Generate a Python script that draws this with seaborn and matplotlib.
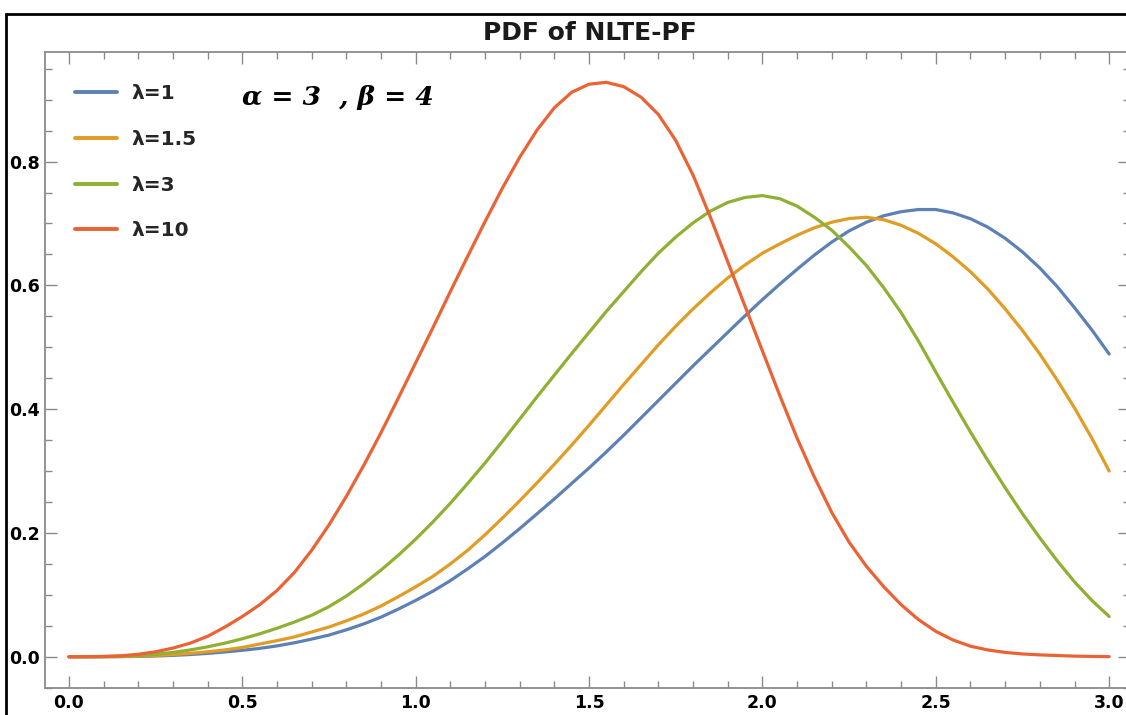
import numpy as np
import pandas as pd
import seaborn as sns
import matplotlib
matplotlib.use("Agg")
import matplotlib.pyplot as plt
from matplotlib.patches import Rectangle
from matplotlib.ticker import MultipleLocator, FormatStrFormatter

# ---------------- data ----------------
x_vals = [0.00, 0.05, 0.10, 0.15, 0.20, 0.25, 0.30, 0.35, 0.40, 0.45,
          0.50, 0.55, 0.60, 0.65, 0.70, 0.75, 0.80, 0.85, 0.90, 0.95,
          1.00, 1.05, 1.10, 1.15, 1.20, 1.25, 1.30, 1.35, 1.40, 1.45,
          1.50, 1.55, 1.60, 1.65, 1.70, 1.75, 1.80, 1.85, 1.90, 1.95,
          2.00, 2.05, 2.10, 2.15, 2.20, 2.25, 2.30, 2.35, 2.40, 2.45,
          2.50, 2.55, 2.60, 2.65, 2.70, 2.75, 2.80, 2.85, 2.90, 2.95,
          3.00]

y_lam1 = [0.0, 0.00001, 0.00005, 0.0002, 0.0006, 0.0012, 0.0022, 0.0036, 0.0054, 0.0077,
          0.0104, 0.0135, 0.0175, 0.0225, 0.0285, 0.035, 0.0435, 0.053, 0.064, 0.077,
          0.091, 0.106, 0.123, 0.142, 0.162, 0.184, 0.207, 0.231, 0.255, 0.280,
          0.305, 0.331, 0.358, 0.386, 0.414, 0.442, 0.470, 0.497, 0.524, 0.551,
          0.577, 0.602, 0.626, 0.649, 0.670, 0.688, 0.702, 0.7125, 0.719, 0.7225,
          0.7225, 0.717, 0.7076, 0.694, 0.676, 0.654, 0.628, 0.598, 0.564, 0.528,
          0.489]

y_lam15 = [0.0, 0.00001, 0.0001, 0.0004, 0.001, 0.002, 0.0035, 0.0055, 0.008, 0.011,
           0.015, 0.0205, 0.026, 0.032, 0.040, 0.048, 0.058, 0.069, 0.082, 0.097,
           0.113, 0.130, 0.150, 0.172, 0.197, 0.224, 0.252, 0.281, 0.311, 0.342,
           0.374, 0.407, 0.440, 0.472, 0.504, 0.534, 0.562, 0.588, 0.612, 0.633,
           0.652, 0.667, 0.681, 0.693, 0.702, 0.708, 0.710, 0.706, 0.697, 0.684,
           0.667, 0.646, 0.622, 0.594, 0.562, 0.527, 0.489, 0.447, 0.402, 0.353,
           0.300]

y_lam3 = [0.0, 0.00002, 0.0003, 0.001, 0.002, 0.004, 0.007, 0.011, 0.016, 0.022,
          0.029, 0.037, 0.046, 0.056, 0.067, 0.081, 0.098, 0.118, 0.140, 0.164,
          0.190, 0.218, 0.248, 0.280, 0.313, 0.348, 0.384, 0.420, 0.455, 0.490,
          0.524, 0.558, 0.590, 0.622, 0.652, 0.678, 0.701, 0.720, 0.734, 0.742,
          0.745, 0.740, 0.728, 0.710, 0.689, 0.662, 0.632, 0.596, 0.556, 0.510,
          0.460, 0.411, 0.363, 0.317, 0.273, 0.231, 0.192, 0.155, 0.121, 0.091,
          0.065]

y_lam10 = [0.0, 0.0001, 0.0005, 0.0015, 0.004, 0.008, 0.014, 0.022, 0.033, 0.048,
           0.065, 0.084, 0.107, 0.136, 0.172, 0.213, 0.259, 0.309, 0.362, 0.418,
           0.475, 0.532, 0.590, 0.647, 0.703, 0.757, 0.807, 0.851, 0.887, 0.912,
           0.925, 0.928, 0.921, 0.904, 0.876, 0.834, 0.778, 0.710, 0.638, 0.566,
           0.494, 0.422, 0.353, 0.290, 0.233, 0.185, 0.146, 0.113, 0.084, 0.060,
           0.041, 0.027, 0.017, 0.011, 0.007, 0.0045, 0.003, 0.002, 0.001, 0.0005,
           0.0002]

labels = ["λ=1", "λ=1.5", "λ=3", "λ=10"]
colors = ["#5E81B5", "#E19C24", "#8FB032", "#EB6235"]

title = "PDF of NLTE-PF"
annotation = "α = 3  , β = 4"
x_ticks = [0.0, 0.5, 1.0, 1.5, 2.0, 2.5, 3.0]
y_ticks = [0.0, 0.2, 0.4, 0.6, 0.8]

# ---------------- tidy table ----------------
frames = []
for lab, ys in zip(labels, [y_lam1, y_lam15, y_lam3, y_lam10]):
    frames.append(pd.DataFrame({"x": x_vals, "y": ys, "series": lab}))
df = pd.concat(frames, ignore_index=True)

# ---------------- figure ----------------
sns.set_theme(style="white")
plt.rcParams["font.family"] = ["DejaVu Sans"]

W, H = 1126, 715
fig = plt.figure(figsize=(W / 100, H / 100), dpi=100)
left_px, right_px, top_px, bot_px = 45, 1130, 52, 688
ax = fig.add_axes([left_px / W, 1 - bot_px / H,
                   (right_px - left_px) / W, (bot_px - top_px) / H])

sns.lineplot(data=df, x="x", y="y", hue="series", palette=colors,
             hue_order=labels, estimator=None, sort=False,
             linewidth=2.3, ax=ax)

ax.set_xlim(-0.069, 3.06)
ax.set_ylim(-0.0505, 0.977)
ax.set_xlabel("")
ax.set_ylabel("")

ax.set_xticks(x_ticks)
ax.set_yticks(y_ticks)
ax.xaxis.set_minor_locator(MultipleLocator(0.1))
ax.yaxis.set_minor_locator(MultipleLocator(0.05))
ax.xaxis.set_major_formatter(FormatStrFormatter("%.1f"))
ax.yaxis.set_major_formatter(FormatStrFormatter("%.1f"))

gray = "#8a8a8a"
ax.tick_params(which="both", direction="in", top=True, right=True,
               bottom=True, left=True, color=gray, width=1.0)
ax.tick_params(which="major", length=8.5, pad=4, labelsize=12.5)
ax.tick_params(which="minor", length=5)
for lab in ax.get_xticklabels() + ax.get_yticklabels():
    lab.set_fontweight("bold")
    lab.set_color("black")
for sp in ax.spines.values():
    sp.set_color(gray)
    sp.set_linewidth(1.3)

handles, labs = ax.get_legend_handles_labels()
leg = ax.legend(handles, labs, loc="upper left",
                bbox_to_anchor=(30 / (right_px - left_px), (bot_px - 84) / (bot_px - top_px)),
                frameon=False, borderpad=0, borderaxespad=0,
                handlelength=2.1, handletextpad=0.7, labelspacing=1.33,
                prop={"weight": "bold", "size": 14.5})
for lh in leg.get_lines():
    lh.set_linewidth(2.8)

fig.text(590 / W, 1 - 33 / H, title, ha="center", va="center",
         fontsize=18, fontweight="bold", color="#1a1a1a")
fig.text(242 / W, 1 - 97 / H, annotation, ha="left", va="center",
         fontsize=19, fontweight="bold", fontstyle="italic",
         family=["DejaVu Serif"], color="black")

# outer black border (as in the screenshot)
fig.patches.append(Rectangle((6 / W, -0.05), 1.2, 1 - 14 / H + 0.05,
                             transform=fig.transFigure, fill=False,
                             edgecolor="black", linewidth=2.0, clip_on=False))

fig.savefig("out.png", dpi=100)
